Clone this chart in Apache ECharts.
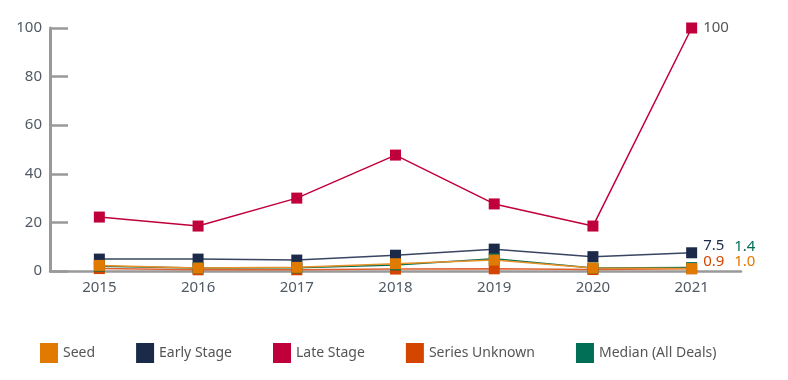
<!DOCTYPE html>
<html><head><meta charset="utf-8">
<script src="https://cdn.jsdelivr.net/npm/echarts@6/dist/echarts.min.js"></script>
<style>html,body{margin:0;padding:0;background:#fff}#c{width:788px;height:380px}</style>
</head><body><div id="c"></div>
<script>
const years = ['2015','2016','2017','2018','2019','2020','2021'];
const seed = [2.3, 1.2, 1.5, 3.0, 4.5, 1.2, 1.0];
const early = [4.9, 4.9, 4.5, 6.5, 9.0, 5.9, 7.5];
const late = [22.2, 18.5, 30.0, 47.7, 27.6, 18.5, 100];
const unknown = [1.0, 0.5, 0.5, 0.8, 0.9, 0.6, 0.9];
const median = [2.0, 1.2, 1.3, 2.5, 5.0, 1.2, 1.4];
const yTicks = [0, 20, 40, 60, 80, 100];

const FONT = 'Noto Sans';
function withEndLabel(arr, color, offset) {
  return arr.map((v, i) => i === arr.length - 1 ? {
    value: v,
    label: { show: true, position: 'right', distance: 6, offset: offset, color: color,
      fontFamily: FONT, fontSize: 15, formatter: String(v % 1 === 0 && v < 10 ? v.toFixed(1) : v) }
  } : v);
}
function mk(name, data, color, lineColor, z) {
  return { name, type: 'line', data, symbol: 'rect', symbolSize: 11, z,
    itemStyle: { color }, lineStyle: { color: lineColor || color, width: 1.5 },
    emphasis: { disabled: true }, animation: false };
}
const chart = echarts.init(document.getElementById('c'));
chart.setOption({
  animation: false,
  color: ['#E07A00', '#1C2A4A', '#C0003A', '#D44500', '#006F55'],
  grid: { left: 50, right: 47, top: 28, bottom: 109 },
  legend: {
    left: 35, top: 338, itemWidth: 18, itemHeight: 20, itemGap: 41, icon: 'rect',
    textStyle: { fontFamily: FONT, fontSize: 14, color: '#555' },
    data: ['Seed', 'Early Stage', 'Late Stage', 'Series Unknown', 'Median (All Deals)']
  },
  xAxis: {
    type: 'category', data: years, boundaryGap: true,
    axisLine: { lineStyle: { color: '#999', width: 2.5 } },
    axisTick: { inside: true, length: 6, lineStyle: { color: '#999', width: 1.5 } },
    axisLabel: { fontFamily: FONT, fontSize: 15, color: '#505a64', margin: 9 }
  },
  yAxis: {
    type: 'value', min: 0, max: 100, interval: 20,
    axisLine: { show: true, lineStyle: { color: '#999', width: 3 } },
    axisTick: { show: true, inside: true, length: 18, lineStyle: { color: '#999', width: 2.5 } },
    splitLine: { show: false },
    axisLabel: { fontFamily: FONT, fontSize: 15, color: '#505a64', margin: 8,
      formatter: v => yTicks.includes(v) ? String(v) : '' }
  },
  series: [
    mk('Late Stage', withEndLabel(late, '#555', [0, 0]), '#C0003A', '#C0003A', 2),
    mk('Early Stage', withEndLabel(early, '#1C2A4A', [0, -7]), '#1C2A4A', '#3A4562', 3),
    mk('Series Unknown', withEndLabel(unknown, '#D44500', [0, -7]), '#D44500', '#E06030', 4),
    mk('Median (All Deals)', withEndLabel(median, '#006F55', [31, -21]), '#006F55', '#006F55', 5),
    mk('Seed', withEndLabel(seed, '#E07A00', [31, -7]), '#E07A00', '#E8902A', 6)
  ]
});
</script></body></html>
